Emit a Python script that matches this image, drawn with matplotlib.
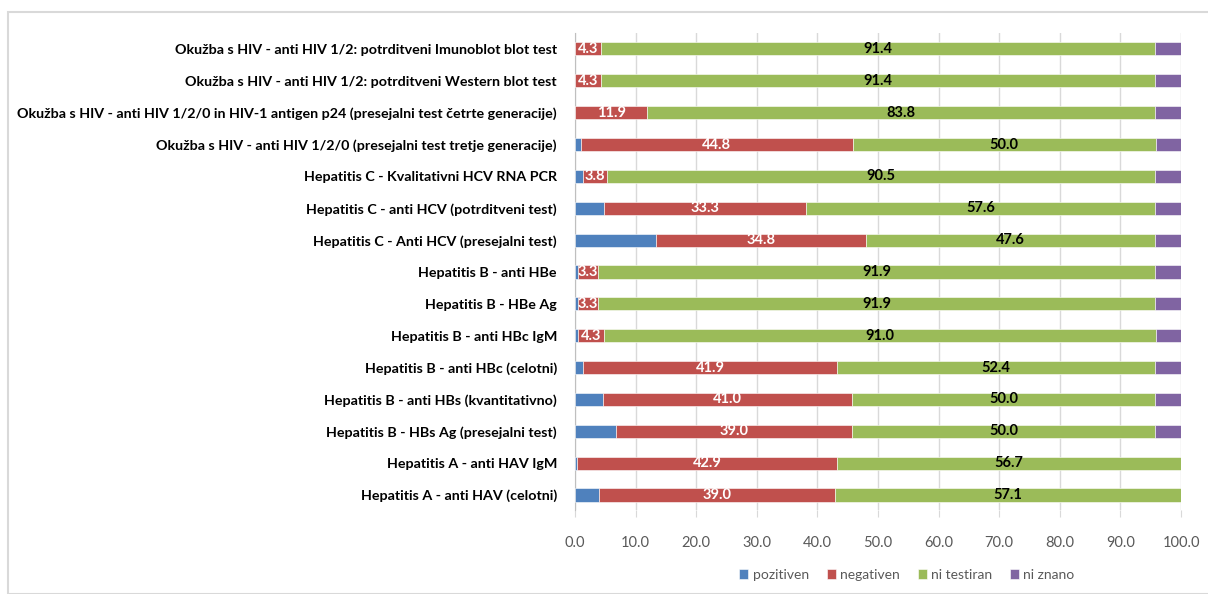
import matplotlib
matplotlib.use("Agg")
import matplotlib.pyplot as plt
from matplotlib.patches import Rectangle
import numpy as np

plt.rcParams['font.family'] = ['Lato', 'DejaVu Sans']

categories = [
    "Okužba s HIV - anti HIV 1/2: potrditveni Imunoblot blot test",
    "Okužba s HIV - anti HIV 1/2: potrditveni Western blot test",
    "Okužba s HIV - anti HIV 1/2/0 in HIV-1 antigen p24 (presejalni test četrte generacije)",
    "Okužba s HIV - anti HIV 1/2/0 (presejalni test tretje generacije)",
    "Hepatitis C - Kvalitativni HCV RNA PCR",
    "Hepatitis C - anti HCV (potrditveni test)",
    "Hepatitis C - Anti HCV (presejalni test)",
    "Hepatitis B - anti HBe",
    "Hepatitis B - HBe Ag",
    "Hepatitis B - anti HBc IgM",
    "Hepatitis B - anti HBc (celotni)",
    "Hepatitis B - anti HBs (kvantitativno)",
    "Hepatitis B - HBs Ag (presejalni test)",
    "Hepatitis A - anti HAV IgM",
    "Hepatitis A - anti HAV (celotni)",
]
pozitiven = [0.0, 0.0, 0.0, 1.0, 1.4, 4.8, 13.3, 0.5, 0.5, 0.5, 1.4, 4.7, 6.7, 0.4, 3.9]
negativen = [4.3, 4.3, 11.9, 44.8, 3.8, 33.3, 34.8, 3.3, 3.3, 4.3, 41.9, 41.0, 39.0, 42.9, 39.0]
ni_testiran = [91.4, 91.4, 83.8, 50.0, 90.5, 57.6, 47.6, 91.9, 91.9, 91.0, 52.4, 50.0, 50.0, 56.7, 57.1]
ni_znano = [4.3, 4.3, 4.3, 4.3, 4.3, 4.3, 4.3, 4.3, 4.3, 4.3, 4.3, 4.3, 4.3, 0.0, 0.0]
series_names = ["pozitiven", "negativen", "ni testiran", "ni znano"]
colors = ["#4F81BD", "#C0504D", "#9BBB59", "#8064A2"]
xticks = [0, 10, 20, 30, 40, 50, 60, 70, 80, 90, 100]

W, H = 1208, 594
fig = plt.figure(figsize=(W / 100, H / 100), dpi=100)
fig.patches.append(Rectangle((8 / W, 0), 1.0, 1 - 12 / H, transform=fig.transFigure,
                             fill=False, edgecolor="#D9D9D9", linewidth=1.5, zorder=0))
ax = fig.add_axes([575 / W, 1 - 510 / H, (1181 - 575) / W, (510 - 33) / H])

n = len(categories)
y = np.arange(n)[::-1]  # first category at top
series = [pozitiven, negativen, ni_testiran, ni_znano]
left = np.zeros(n)
bar_h = 0.41
for name, vals, c in zip(series_names, series, colors):
    vals = np.array(vals)
    bars = ax.barh(y, vals, left=left, height=bar_h, color=c, label=name,
                   edgecolor="#FFFFFF", linewidth=0.4, zorder=3)
    if name == "negativen":
        ax.bar_label(bars, labels=[f"{v:.1f}" for v in vals], label_type="center",
                     color="white", fontsize=10.5, fontweight="bold", zorder=4)
    elif name == "ni testiran":
        ax.bar_label(bars, labels=[f"{v:.1f}" for v in vals], label_type="center",
                     color="black", fontsize=10.5, fontweight="bold", zorder=4)
    left += vals

ax.set_xlim(0, 100)
ax.set_ylim(-0.47, n - 0.5)
ax.set_xticks(xticks)
ax.set_xticklabels([f"{t:.1f}" for t in xticks], color="#595959", fontsize=10.5)
ax.set_yticks(y)
ax.set_yticklabels(categories, fontsize=10.3, fontweight="bold", color="black")
ax.grid(axis="x", color="#D9D9D9", linewidth=1, zorder=0)
for s in ["top", "right", "bottom"]:
    ax.spines[s].set_visible(False)
ax.spines["left"].set_color("#BFBFBF")
ax.tick_params(axis="x", length=5, color="#D9D9D9", pad=14)
ax.tick_params(axis="y", length=0, pad=13)

leg = fig.legend(loc="center", bbox_to_anchor=(907 / W, 1 - 575 / H), ncol=4, frameon=False,
                 fontsize=10, handlelength=0.65, handleheight=0.65, handletextpad=0.3,
                 columnspacing=1.3)
for t in leg.get_texts():
    t.set_color("#595959")

fig.savefig("out.png", dpi=100, facecolor="white")
